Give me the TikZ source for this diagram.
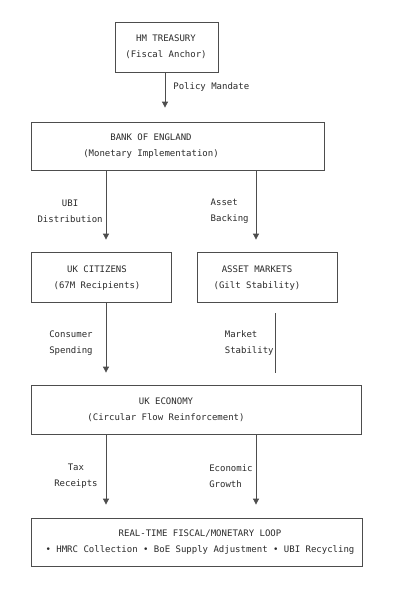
\documentclass[tikz,border=0pt]{standalone}
\usepackage{fontspec}
\setmonofont{DejaVu Sans Mono}
\usetikzlibrary{positioning, arrows.meta}
\definecolor{ink}{HTML}{2B2B2B}
\definecolor{wire}{HTML}{4D4D4D}
\tikzset{
	box/.style={draw=wire, line width=0.8pt, inner sep=0pt},
	txt/.style={text=ink, align=center, font=\ttfamily\fontsize{9}{16}\selectfont, inner sep=1pt},
	lbl/.style={text=ink, font=\ttfamily\fontsize{9}{16}\selectfont, inner sep=1pt},
	flow/.style={draw=wire, line width=0.8pt, -{Triangle[width=6pt,length=6pt]}},
	link/.style={draw=wire, line width=0.8pt}
}

\begin{document}
\begin{tikzpicture}[x=1pt, y=-1pt]
		\path[use as bounding box, fill=white] (0,0) rectangle (405,589);
		
		\coordinate (colT) at (165,0);
		\coordinate (colL) at (106,0);
		\coordinate (colR) at (256,0);
		\coordinate (colM) at (275,0);
		
		\node[box, minimum width=103pt, minimum height=50pt] (treasury) at (167,47) {};
		\node[txt] (treasurytxt) at ([xshift=-1pt]treasury.center) {HM TREASURY\\(Fiscal Anchor)};
		
		\node[box, minimum width=293pt, minimum height=48pt] (boe) at (177.5,146) {};
		\node[txt] (boetxt) at ([xshift=-26.5pt]boe.center) {BANK OF ENGLAND\\(Monetary Implementation)};
		
		\node[box, minimum width=140pt, minimum height=50pt] (citizens) at (101,277) {};
		\node[txt] (citizenstxt) at ([xshift=-4pt, yshift=-1pt]citizens.center) {UK CITIZENS\\(67M Recipients)};
		
		\node[box, minimum width=140pt, minimum height=50pt] (assets) at (267,277) {};
		\node[txt] (assetstxt) at ([xshift=-10pt, yshift=-1pt]assets.center) {ASSET MARKETS\\(Gilt Stability)};
		
		\node[box, minimum width=330pt, minimum height=49pt] (economy) at (196,409.5) {};
		\node[txt] (economytxt) at ([xshift=-30pt]economy.center) {UK ECONOMY\\(Circular Flow Reinforcement)};
		
		\node[box, minimum width=331pt, minimum height=48pt] (loop) at (196.5,542) {};
		\node[txt] (looptxt) at ([xshift=3.5pt]loop.center) {REAL-TIME FISCAL/MONETARY LOOP\\• HMRC Collection • BoE Supply Adjustment • UBI Recycling};
		
		\draw[flow, shorten >=14pt] (treasury.south -| colT) -- (boe.north -| colT)
		node[lbl, pos=0.3, right, xshift=7pt] {Policy Mandate};
		
		\draw[flow, shorten >=12pt] (boe.south -| colL) -- (citizens.north -| colL)
		node[lbl, pos=0.5, left, xshift=-2pt, align=center] {UBI\\Distribution};
		\draw[flow, shorten >=12pt] (boe.south -| colR) -- (assets.north -| colR)
		node[lbl, pos=0.5, left, xshift=-6pt, align=left] {Asset\\Backing};
		
		\draw[flow, shorten >=12pt] (citizens.south -| colL) -- (economy.north -| colL)
		node[lbl, pos=0.5, left, xshift=-12pt, align=center] {Consumer\\Spending};
		\draw[link, shorten <=11pt, shorten >=12pt] (assets.south -| colM) -- (economy.north -| colM)
		node[lbl, pos=0.5, left, xshift=0pt, align=left] {Market\\Stability};
		
		\draw[flow, shorten >=13pt] (economy.south -| colL) -- (loop.north -| colL)
		node[lbl, pos=0.5, left, xshift=-7pt, align=center] {Tax\\Receipts};
		\draw[flow, shorten >=13pt] (economy.south -| colR) -- (loop.north -| colR)
		node[lbl, pos=0.5, left, xshift=-2pt, align=left] {Economic\\Growth};
		
	\end{tikzpicture}
\end{document}
